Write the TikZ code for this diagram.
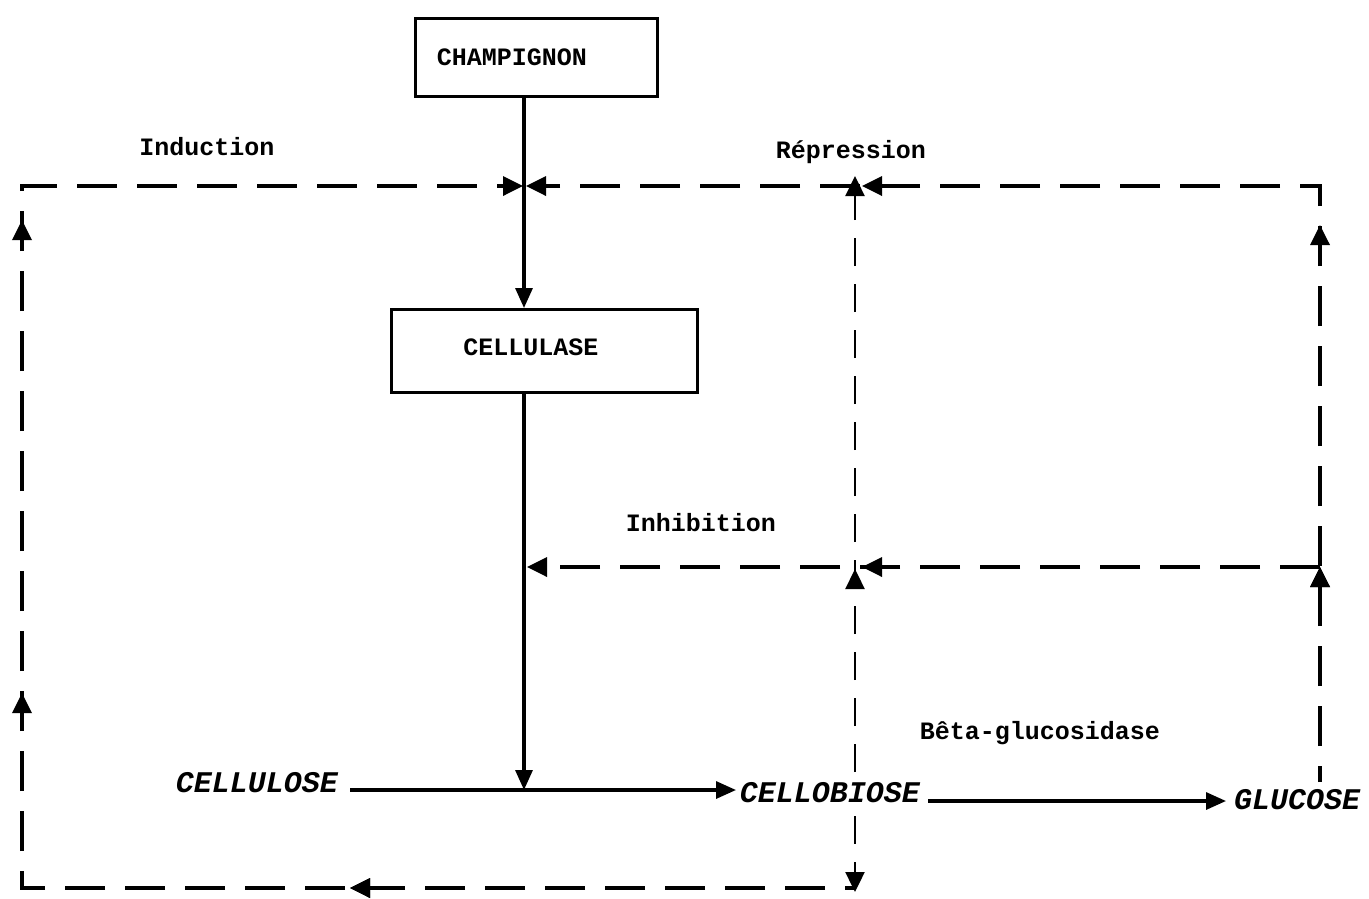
\documentclass[tikz,border=0pt]{standalone}
\usepackage{fontspec}
\setmonofont{Liberation Mono}
\usetikzlibrary{arrows.meta,decorations.markings}
\begin{document}
\begin{tikzpicture}[x=1pt,y=-1pt,
  boxst/.style={draw,line width=3pt,inner sep=0pt},
  lab/.style={font=\ttfamily\bfseries\fontsize{25}{30}\selectfont,inner sep=0pt},
  chem/.style={font=\ttfamily\bfseries\itshape\fontsize{30}{36}\selectfont,inner sep=2pt,fill=white},
  sol/.style={line width=3.2pt,-{Triangle[length=20pt,width=17pt]}},
  dl/.style={line width=3.5pt,dash pattern=on 40pt off 20pt,-{Triangle[length=20pt,width=19pt]}},
  thin/.style={line width=2.4pt,dash pattern=on 28pt off 18pt},
  tipfwd/.style={postaction={decorate},decoration={markings,mark=at position #1 with {\arrow{Triangle[length=20pt,width=19pt]}}}},
]
\useasboundingbox (0,0) rectangle (1369,898);

% boxes
\node[boxst,minimum width=242pt,minimum height=78pt] (champ) at (536,57) {};
\node[lab] (champt) at (512,57) {CHAMPIGNON};
\node[boxst,minimum width=306pt,minimum height=83pt] (cellu) at (544,351) {};
\node[lab] (cellut) at (531,347) {CELLULASE};

% chemical names
\node[chem] (cellulose) at (257,783) {CELLULOSE};
\node[chem] (cellobiose) at (830,793) {CELLOBIOSE};
\node[chem] (glucose) at (1297,800) {GLUCOSE};

% labels
\node[lab] (ind) at (207,147) {Induction};
\node[lab] (rep) at (851,152) {Répression};
\node[lab] (inh) at (701,523) {Inhibition};
\node[lab] (beta) at (1040,733) {Bêta-glucosidase};

% coordinates
\coordinate (J1) at (524,186);
\coordinate (J1l) at (523,186);
\coordinate (J1r) at (526,186);
\coordinate (TL) at (22,186);
\coordinate (TR) at (1320,186);
\coordinate (BL) at (22,888);
\coordinate (BR) at (855,888);
\coordinate (BRt) at (855,892);
\coordinate (CBtop) at (855,772);
\coordinate (CBbot) at (855,816);
\coordinate (Vtop) at (855,176);
\coordinate (GLtop) at (1320,782);
\coordinate (RI) at (1320,567);
\coordinate (LI) at (527,567);
\coordinate (a1) at (350,790);
\coordinate (a2) at (736,790);
\coordinate (b1) at (928,801);
\coordinate (b2) at (1226,801);

% solid connectors
\draw[sol] (champ.south -| J1) -- (cellu.north -| J1);
\draw[sol] (cellu.south -| J1) -- (J1 |- a1);
\draw[sol] (a1) -- (a2);
\draw[sol] (b1) -- (b2);

% induction loop
\draw[dl,dash phase=30pt,tipfwd=505pt,postaction={decorate,decoration={markings,
   mark=at position 1028pt with {\arrow{Triangle[length=20pt,width=19pt]}},
   mark=at position 1501pt with {\arrow{Triangle[length=20pt,width=19pt]}}}}]
  (BR) -- (BL) -- (TL) -- (J1l);
% repression
\draw[dl,dash phase=24pt,tipfwd=215pt,postaction={decorate,decoration={markings,
   mark=at position 557pt with {\arrow{Triangle[length=20pt,width=19pt]}},
   mark=at position 1054pt with {\arrow{Triangle[length=20pt,width=19pt]}}}}]
  (GLtop) -- (TR) -- (J1r);
% cellobiose up
\draw[dl,thin,-{Triangle[length=20pt,width=19pt]},tipfwd=203pt] (CBtop) -- (Vtop);
% cellobiose down
\draw[dl,thin,-{Triangle[length=20pt,width=19pt]}] (CBbot) -- (BRt);
% inhibition
\draw[dl,tipfwd=458pt] (RI) -- (LI);
\end{tikzpicture}
\end{document}
